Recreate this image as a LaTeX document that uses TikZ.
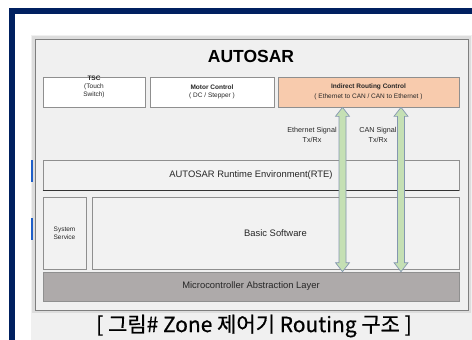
\documentclass[tikz,border=0pt]{standalone}
\usepackage{fontspec}
\setmainfont{Liberation Sans}
\newfontfamily\krfont[FakeBold=0.6]{Noto Sans CJK KR}
\usetikzlibrary{calc}
\definecolor{navy}{HTML}{002060}
\definecolor{panelgray}{HTML}{F0F0F0}
\definecolor{shadowgray}{HTML}{DDDDDD}
\definecolor{frameline}{HTML}{7F7F7F}
\definecolor{boxline}{HTML}{8F8F8F}
\definecolor{boxfill}{HTML}{F2F2F2}
\definecolor{peach}{HTML}{F8CBAD}
\definecolor{malfill}{HTML}{AEAAAA}
\definecolor{arrfill}{HTML}{C5E0B4}
\definecolor{arrline}{HTML}{8497B0}
\definecolor{textc}{HTML}{262626}
\definecolor{markblue}{HTML}{1F5FC8}
\tikzset{
  box/.style={draw=boxline, line width=0.7pt, rectangle, inner sep=0pt, align=center, text=textc},
  tinyf/.style={font=\fontsize{6.5}{8}\selectfont},
  tinylbl/.style={font=\fontsize{6.5}{8}\selectfont, align=center, inner sep=0pt, text=textc},
  sigf/.style={font=\fontsize{7.2}{10}\selectfont, align=center, inner sep=0pt, text=textc},
  midf/.style={font=\fontsize{9.4}{11}\selectfont},
  garrow/.style={draw=arrline, fill=arrfill, line width=0.7pt, line join=miter},
}
\newcommand\dblblock[2]{%
  \draw[garrow] (#1) -- ++(7,9) -- ++(-3.5,0) -- ($(#2)+(3.5,-9)$) -- ++(3.5,0)
    -- (#2) -- ++(-7,-9) -- ++(3.5,0) -- ($(#1)+(-3.5,9)$) -- ++(-3.5,0) -- cycle;}
\begin{document}
\begin{tikzpicture}[x=1pt,y=-1pt]
\useasboundingbox (0,0) rectangle (472,340);
\fill[white] (0,0) rectangle (472,340);
% navy frame
\fill[navy] (9,8) rectangle (472,14);
\fill[navy] (9,8) rectangle (15,340);
% grey panel
\fill[panelgray] (31,35) rectangle (472,340);
\draw[shadowgray, line width=3pt] (33.5,37.5) rectangle (469.5,311.5);
\draw[frameline, line width=0.9pt] (35,39) rectangle (468,310);
% side marks
\draw[markblue, line width=1.5pt] (32,160) -- (32,182);
\draw[markblue, line width=1.5pt] (32,218) -- (32,240);
% title
\node[font=\bfseries\fontsize{17.5}{20}\selectfont, text=black, inner sep=0pt] (title) at (251,56) {AUTOSAR};
% top row
\node[box, fill=white, minimum width=102pt, minimum height=30pt] (tsc) at (94,92) {};
\node[tinylbl] (tsct) at (94,87) {\textbf{TSC}\\(Touch\\Switch)};
\node[box, tinyf, fill=white, minimum width=124pt, minimum height=30pt] (motor) at (212,92) {\textbf{Motor Control}\\( DC / Stepper )};
\node[box, font=\fontsize{6.5}{10}\selectfont, fill=peach, minimum width=181pt, minimum height=30pt] (irc) at (368.5,92) {\textbf{Indirect Routing Control}\\( Ethernet to CAN / CAN to Ethernet )};
% RTE
\node[box, midf, fill=boxfill, minimum width=416pt, minimum height=30pt] (rte) at (251,175) {AUTOSAR Runtime Environment(RTE)};
\draw[black!80, line width=0.8pt] (rte.south west) -- (rte.south east);
% BSW row
\node[box, tinyf, fill=boxfill, minimum width=43pt, minimum height=72pt] (sys) at (64.5,233) {System\\Service};
\node[box, midf, fill=boxfill, minimum width=367pt, minimum height=72pt] (bsw) at (275.5,233) {Basic Software};
% MAL
\node[box, midf, fill=malfill, minimum width=416pt, minimum height=29pt] (mal) at (251,286.5) {Microcontroller Abstraction Layer};
% arrows
\coordinate (a1t) at (irc.south -| 342.5,0);
\coordinate (a1b) at (mal.north -| 342.5,0);
\coordinate (a2t) at (irc.south -| 401,0);
\coordinate (a2b) at (mal.north -| 401,0);
\dblblock{a1t}{a1b}
\dblblock{a2t}{a2b}
% signal labels
\node[sigf] (eth) at (312,135) {Ethernet Signal\\Tx/Rx};
\node[sigf] (can) at (378,135) {CAN Signal\\Tx/Rx};
% caption
\node[font=\krfont\fontsize{21}{24}\selectfont, text=black, inner sep=0pt] (cap) at (254,326) {[ 그림\# Zone 제어기 Routing 구조 ]};
\end{tikzpicture}
\end{document}
